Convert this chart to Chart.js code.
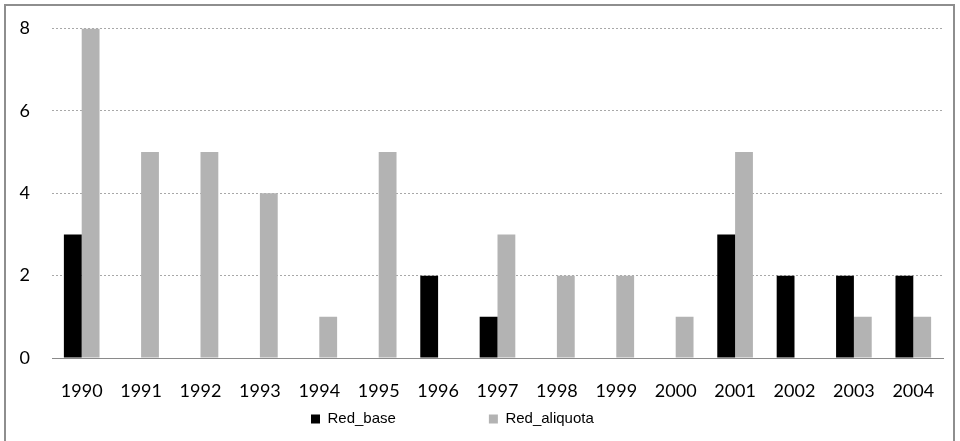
<!DOCTYPE html>
<html>
<head>
<meta charset="utf-8">
<script src="https://cdn.jsdelivr.net/npm/chart.js@4/dist/chart.umd.min.js"></script>
<style>
  html, body { margin: 0; padding: 0; background: #fff; }
  #wrap { position: relative; width: 960px; height: 441px; overflow: hidden; }
  #frame { position: absolute; left: 4px; top: 4px; width: 951px; height: 460px; border: 2px solid #8e8e8e; box-sizing: border-box; pointer-events: none; }
  #box { position: absolute; left: 0; top: 0; width: 960px; height: 441px; }
</style>
</head>
<body>
<div id="wrap">
  <div id="box"><canvas id="c"></canvas></div>
  <div id="frame"></div>
</div>
<script>
const categories = ['1990','1991','1992','1993','1994','1995','1996','1997','1998','1999','2000','2001','2002','2003','2004'];
const redBase = [3, 0, 0, 0, 0, 0, 2, 1, 0, 0, 0, 3, 2, 2, 2];
const redAliquota = [8, 5, 5, 4, 1, 5, 0, 3, 2, 2, 1, 5, 0, 1, 1];
const seriesNames = ['Red_base', 'Red_aliquota'];
const yTicks = [0, 2, 4, 6, 8];

const LEGEND_X = 311;
const LEGEND_CY = 419;
const LEGEND_PAD = 93;

const legendPos = {
  id: 'legendPos',
  afterInit(chart) {
    if (chart.legend) chart.legend.isHorizontal = () => true;
  },
  afterLayout(chart) {
    const lg = chart.legend;
    if (!lg) return;
    const fs = lg.options.labels.font.size;
    lg.left = LEGEND_X - LEGEND_PAD;
    lg.right = 950;
    lg.top = LEGEND_CY - LEGEND_PAD - fs / 2;
    lg.bottom = lg.top + lg.height;
  }
};

new Chart(document.getElementById('c'), {
  type: 'bar',
  data: {
    labels: categories,
    datasets: [
      { label: seriesNames[0], data: redBase, backgroundColor: '#000000', borderWidth: 0 },
      { label: seriesNames[1], data: redAliquota, backgroundColor: '#b3b3b3', borderWidth: 0 }
    ]
  },
  options: {
    responsive: true,
    maintainAspectRatio: false,
    animation: false,
    devicePixelRatio: 1,
    layout: { padding: { left: 0, right: 17, top: 28.5, bottom: 0 } },
    datasets: { bar: { barPercentage: 1.0, categoryPercentage: 0.6 } },
    plugins: {
      tooltip: { enabled: false },
      legend: {
        position: 'chartArea',
        align: 'start',
        labels: {
          boxWidth: 9,
          boxHeight: 9,
          padding: LEGEND_PAD,
          color: '#000',
          font: { family: '"Liberation Sans", Arial, sans-serif', size: 15 }
        }
      }
    },
    scales: {
      x: {
        afterFit(scale) { scale.height = 83; },
        grid: { display: false, drawTicks: false },
        border: { display: true, color: '#8a8a8a', width: 1 },
        ticks: { color: '#000', padding: 22, maxRotation: 0, font: { family: 'Lato, "Open Sans", sans-serif', size: 18 } }
      },
      y: {
        min: 0,
        max: 8,
        afterFit(scale) { scale.width = 52; scale.paddingTop = 10; scale.paddingBottom = 10; },
        afterBuildTicks(scale) { scale.ticks = yTicks.map(v => ({ value: v })); },
        grid: { color: '#a8a8a8', lineWidth: 1, drawTicks: false },
        border: { display: false, dash: [2, 2] },
        ticks: { color: '#000', padding: 22, font: { family: 'Lato, "Open Sans", sans-serif', size: 18 } }
      }
    }
  },
  plugins: [legendPos]
});
</script>
</body>
</html>
